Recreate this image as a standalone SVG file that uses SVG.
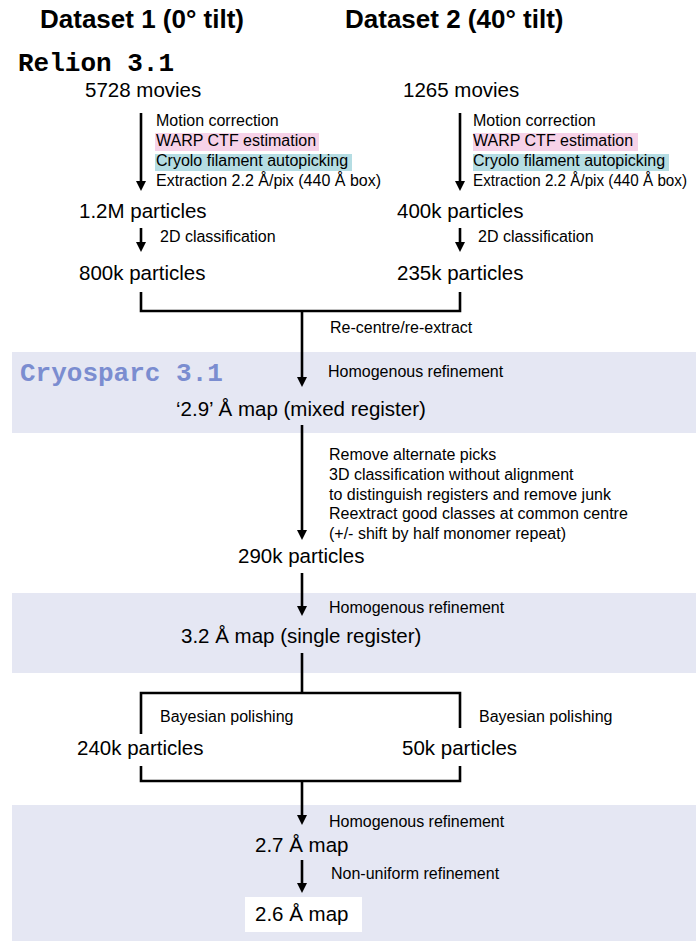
<svg xmlns="http://www.w3.org/2000/svg" width="696" height="941" viewBox="0 0 696 941">
<defs>
<marker id="ah" viewBox="0 0 10 10" markerWidth="10" markerHeight="10" markerUnits="userSpaceOnUse" refX="1" refY="5" orient="auto">
<path d="M0,0 L10,5 L0,10 z" fill="#000"/>
</marker>
<style>
.t{font-family:"Liberation Sans",Arial,sans-serif;fill:#000}
.h{font-size:26px;font-weight:bold}
.m{font-size:20.5px}
.s{font-size:16px}
.c{font-family:"Liberation Mono","Courier New",monospace;font-weight:bold;font-size:26px}
.band{fill:#e5e7f3}
.ln{stroke:#000;stroke-width:2.6;fill:none}
.ar{stroke:#000;stroke-width:2.6;fill:none;marker-end:url(#ah)}
</style>
</defs>
<rect width="696" height="941" fill="#fff"/>
<g id="bands">
<rect class="band" x="12" y="352" width="684" height="81"/>
<rect class="band" x="12" y="593" width="684" height="80"/>
<rect class="band" x="12" y="805" width="684" height="136"/>
</g>
<g id="headers">
<text class="t h" x="40" y="28">Dataset 1 (0° tilt)</text>
<text class="t h" x="345" y="28">Dataset 2 (40° tilt)</text>
<text class="c" x="18" y="71" fill="#000">Relion 3.1</text>
<text class="c" x="20" y="381" fill="#7b8dd0">Cryosparc 3.1</text>
</g>
<g id="highlights">
<rect x="155" y="133" width="164" height="18" fill="#f6d2e8"/>
<rect x="155" y="154" width="197" height="17" fill="#b5dde3"/>
<rect x="473" y="133" width="165" height="18" fill="#f6d2e8"/>
<rect x="473" y="154" width="196" height="17" fill="#b5dde3"/>
</g>
<g id="connectors">
<path class="ar" d="M141,113 V182"/>
<path class="ar" d="M460,113 V182"/>
<path class="ar" d="M141,228 V243"/>
<path class="ar" d="M460,228 V243"/>
<path class="ln" d="M141,292 V311 H460 V292"/>
<path class="ar" d="M302,311 V378"/>
<path class="ar" d="M302,425 V531"/>
<path class="ar" d="M302,573 V607"/>
<path class="ln" d="M302,653 V693"/>
<path class="ln" d="M141,734 V693 H460 V728"/>
<path class="ln" d="M141,766 V781 H460 V766"/>
<path class="ar" d="M302,781 V816"/>
<path class="ar" d="M302,860 V884"/>
</g>
<g id="n-movies1"><text class="t m" x="85" y="97">5728 movies</text></g>
<g id="n-movies2"><text class="t m" x="403" y="97">1265 movies</text></g>
<g id="l-steps1">
<text class="t s" x="156" y="126">Motion correction</text>
<text class="t s" x="156" y="146">WARP CTF estimation</text>
<text class="t s" x="156" y="166">Cryolo filament autopicking</text>
<text class="t s" x="156" y="186">Extraction 2.2 Å/pix (440 Å box)</text>
</g>
<g id="l-steps2">
<text class="t s" x="473" y="126">Motion correction</text>
<text class="t s" x="473" y="146">WARP CTF estimation</text>
<text class="t s" x="473" y="166">Cryolo filament autopicking</text>
<text class="t s" x="473" y="186" textLength="214" lengthAdjust="spacingAndGlyphs">Extraction 2.2 Å/pix (440 Å box)</text>
</g>
<g id="n-12m"><text class="t m" x="79" y="218">1.2M particles</text></g>
<g id="n-400k"><text class="t m" x="397" y="218">400k particles</text></g>
<g id="l-2d"><text class="t s" x="160" y="242">2D classification</text><text class="t s" x="478" y="242">2D classification</text></g>
<g id="n-800k"><text class="t m" x="79" y="280">800k particles</text></g>
<g id="n-235k"><text class="t m" x="397" y="280">235k particles</text></g>
<g id="l-recentre"><text class="t s" x="330" y="333">Re-centre/re-extract</text></g>
<g id="l-homo1"><text class="t s" x="328" y="377">Homogenous refinement</text></g>
<g id="n-map29"><text class="t m" x="176" y="416">‘2.9’ Å map (mixed register)</text></g>
<g id="l-class3d">
<text class="t s" x="329" y="460">Remove alternate picks</text>
<text class="t s" x="329" y="480">3D classification without alignment</text>
<text class="t s" x="329" y="500">to distinguish registers and remove junk</text>
<text class="t s" x="329" y="519">Reextract good classes at common centre</text>
<text class="t s" x="329" y="539">(+/- shift by half monomer repeat)</text>
</g>
<g id="n-290k"><text class="t m" x="238" y="563">290k particles</text></g>
<g id="l-homo2"><text class="t s" x="329" y="613">Homogenous refinement</text></g>
<g id="n-map32"><text class="t m" x="181" y="643">3.2 Å map (single register)</text></g>
<g id="l-bayes"><text class="t s" x="160" y="722">Bayesian polishing</text><text class="t s" x="479" y="722">Bayesian polishing</text></g>
<g id="n-240k"><text class="t m" x="77" y="755">240k particles</text></g>
<g id="n-50k"><text class="t m" x="402" y="755">50k particles</text></g>
<g id="l-homo3"><text class="t s" x="329" y="827">Homogenous refinement</text></g>
<g id="n-map27"><text class="t m" x="255" y="852">2.7 Å map</text></g>
<g id="l-nu"><text class="t s" x="331" y="879">Non-uniform refinement</text></g>
<g id="n-map26"><rect x="245" y="897" width="117" height="35" fill="#fff"/><text class="t m" x="255" y="921">2.6 Å map</text></g>
</svg>
